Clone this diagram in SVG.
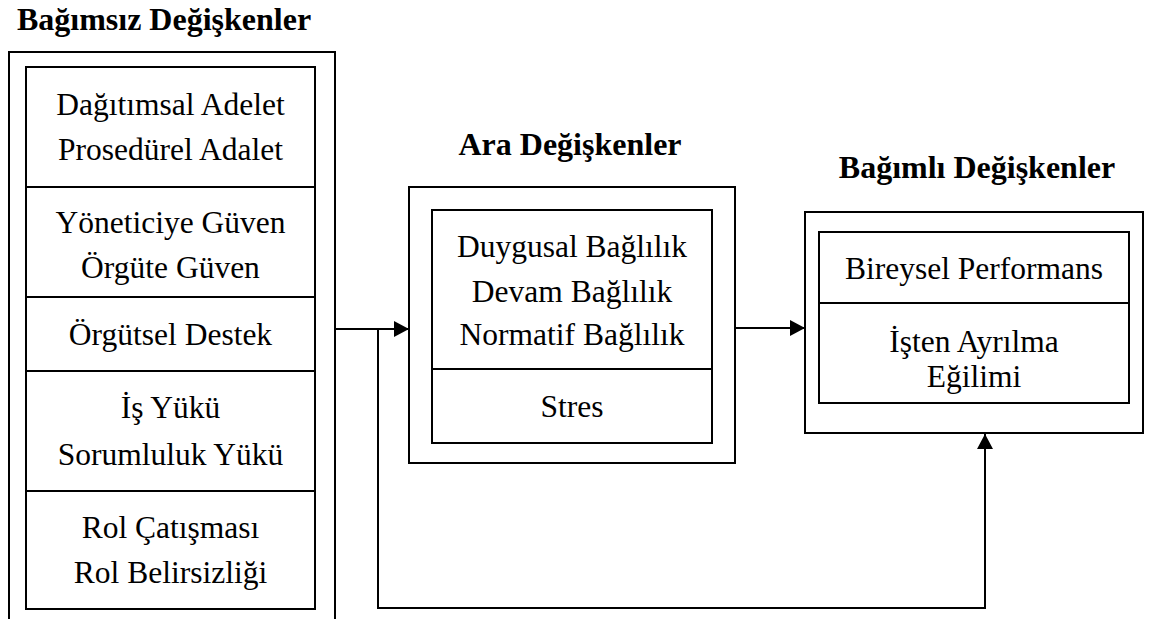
<svg xmlns="http://www.w3.org/2000/svg" width="1155" height="619" viewBox="0 0 1155 619">
<defs>
<style>
.t{font-family:"Liberation Serif","Times New Roman",serif;font-size:31.5px;fill:#000;text-anchor:middle}
.h{font-family:"Liberation Serif","Times New Roman",serif;font-size:32px;font-weight:bold;fill:#000;text-anchor:middle}
.b{fill:#fff;stroke:#000;stroke-width:2}
.l{fill:none;stroke:#000;stroke-width:2}
</style>
<marker id="ah" markerWidth="15" markerHeight="16" refX="15" refY="8" orient="auto" markerUnits="userSpaceOnUse">
<path d="M0,0 L15,8 L0,16 Z" fill="#000"/>
</marker>
</defs>
<rect width="1155" height="619" fill="#fff"/>
<text class="h" x="164" y="30">Bağımsız Değişkenler</text>
<text class="h" x="570" y="155">Ara Değişkenler</text>
<text class="h" x="977" y="178">Bağımlı Değişkenler</text>
<g id="connectors">
<path class="l" d="M335,329 H409" marker-end="url(#ah)"/>
<path class="l" d="M735,328 H805" marker-end="url(#ah)"/>
<path class="l" d="M378,329 V608 H985 V434" marker-end="url(#ah)"/>
</g>
<g id="independent">
<path class="l" d="M9,619 V52 H335 V619"/>
<rect class="b" x="26" y="67" width="289" height="542"/>
<path class="l" d="M26,187 H315 M26,297 H315 M26,371 H315 M26,491 H315"/>
<text class="t" x="170.5" y="115">Dağıtımsal Adelet</text>
<text class="t" x="170.5" y="160">Prosedürel Adalet</text>
<text class="t" x="170.5" y="233">Yöneticiye Güven</text>
<text class="t" x="170.5" y="278">Örgüte Güven</text>
<text class="t" x="170.5" y="345">Örgütsel Destek</text>
<text class="t" x="170.5" y="418">İş Yükü</text>
<text class="t" x="170.5" y="465">Sorumluluk Yükü</text>
<text class="t" x="170.5" y="538">Rol Çatışması</text>
<text class="t" x="170.5" y="583">Rol Belirsizliği</text>
</g>
<g id="mediator">
<rect class="b" x="409" y="187" width="326" height="276"/>
<rect class="b" x="432" y="210" width="280" height="233"/>
<path class="l" d="M432,369 H712"/>
<text class="t" x="572" y="257">Duygusal Bağlılık</text>
<text class="t" x="572" y="302">Devam Bağlılık</text>
<text class="t" x="572" y="345">Normatif Bağlılık</text>
<text class="t" x="572" y="417">Stres</text>
</g>
<g id="dependent">
<rect class="b" x="805" y="212" width="338" height="221"/>
<rect class="b" x="819" y="232" width="310" height="171"/>
<path class="l" d="M819,303 H1129"/>
<text class="t" x="974" y="279">Bireysel Performans</text>
<text class="t" x="974" y="352">İşten Ayrılma</text>
<text class="t" x="974" y="387">Eğilimi</text>
</g>
</svg>
